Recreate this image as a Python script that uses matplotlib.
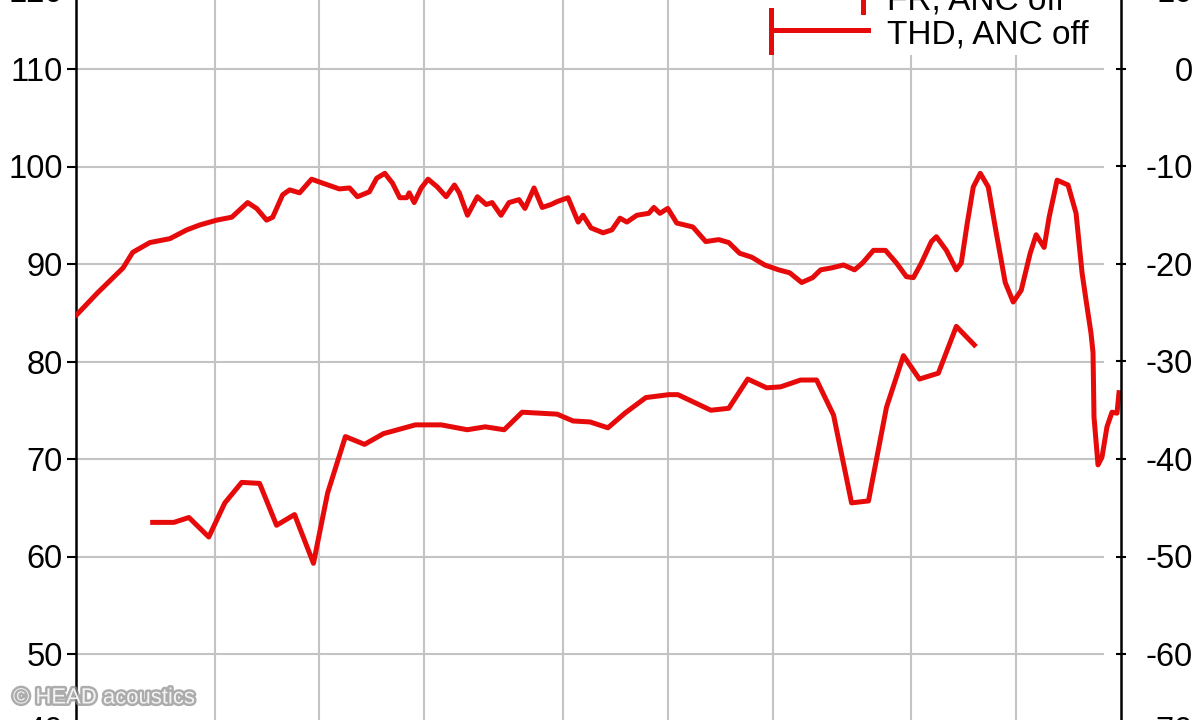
import matplotlib
matplotlib.use("Agg")
import matplotlib.pyplot as plt
from matplotlib.ticker import NullLocator
from matplotlib.transforms import ScaledTranslation
from matplotlib.patches import Rectangle
from matplotlib.lines import Line2D
import matplotlib.patheffects as pe

# ---------------- data ----------------
fr_freq = [20.1, 23.0, 27.3, 29.1, 32.6, 37.2, 41.6, 45.3, 50.7, 56.0,
           62.2, 66.0, 70.5, 73.4, 78.4, 82.1, 87.7, 94.9, 102, 114,
           122, 128.5, 139, 146, 154, 162, 170, 178, 181, 187,
           196, 205, 218, 231, 244, 252, 266, 284, 301, 313,
           332, 350, 374, 389, 413, 436, 462, 481, 517, 553,
           571, 602, 652, 691, 729, 763, 815, 882, 912, 949,
           1000, 1061, 1180, 1285, 1400, 1496, 1608, 1741, 1897, 2081,
           2238, 2423, 2604, 2746, 2952, 3195, 3436, 3622, 3894, 4216,
           4534, 4842, 5070, 5346, 5710, 5902, 6304, 6734, 6958, 7240,
           7532, 7890, 8318, 8768, 9304, 9808, 10340, 10972, 11414, 12032,
           12436, 13110, 14094, 14860, 15460, 15872, 16404, 16624, 16732, 17180,
           17640, 18230, 18846, 19478, 19738]
fr_db = [84.8, 87.0, 89.6, 91.2, 92.2, 92.6, 93.5, 94.0, 94.5, 94.8,
         96.3, 95.7, 94.5, 94.8, 97.1, 97.6, 97.3, 98.7, 98.3, 97.7,
         97.8, 96.9, 97.4, 98.8, 99.3, 98.3, 96.8, 96.8, 97.3, 96.3,
         97.8, 98.7, 97.9, 96.9, 98.1, 97.3, 95.0, 96.9, 96.1, 96.3,
         95.0, 96.3, 96.6, 95.7, 97.8, 95.8, 96.1, 96.4, 96.8, 94.3,
         95.0, 93.7, 93.2, 93.5, 94.7, 94.3, 95.0, 95.2, 95.8, 95.2,
         95.7, 94.2, 93.8, 92.3, 92.5, 92.2, 91.1, 90.7, 89.9, 89.4,
         89.1, 88.1, 88.6, 89.4, 89.6, 89.9, 89.4, 90.1, 91.4, 91.4,
         90.1, 88.7, 88.6, 90.1, 92.3, 92.8, 91.4, 89.4, 90.1, 94.2,
         97.9, 99.3, 97.9, 93.2, 88.1, 86.1, 87.3, 91.1, 93.0, 91.7,
         94.8, 98.6, 98.1, 95.2, 89.1, 86.3, 82.9, 80.9, 74.3, 69.4,
         70.2, 73.3, 74.8, 74.7, 76.8]

thd_freq = [33.2, 38.2, 42.2, 48.1, 53.5, 59.8, 67.3, 75.3, 84.8, 96.1,
            105.5, 118.7, 134.7, 152.6, 188.5, 223.8, 265.6, 299.2, 339, 381.8,
            481, 534.6, 598, 673, 753, 865, 1007, 1069, 1329, 1496,
            1696, 1922, 2108, 2405, 2674, 2991, 3369, 3768, 4244, 4747,
            5276, 5979, 6734, 7584]
thd_db = [-46.5, -46.5, -46.0, -48.0, -44.5, -42.4, -42.5, -46.8, -45.7, -50.7,
          -43.5, -37.7, -38.5, -37.4, -36.5, -36.5, -37.0, -36.7, -37.0, -35.2,
          -35.4, -36.1, -36.2, -36.8, -35.3, -33.7, -33.4, -33.4, -35.0, -34.8,
          -31.8, -32.7, -32.6, -31.9, -31.9, -35.5, -44.5, -44.3, -34.7, -29.4,
          -31.8, -31.2, -26.4, -28.3]

left_ticks = [40, 50, 60, 70, 80, 90, 100, 110, 120]
right_ticks = [-70, -60, -50, -40, -30, -20, -10, 0, 10]
x_grid = [50, 100, 200, 500, 1000, 2000, 5000, 10000]
legend_labels = ["FR, ANC off", "THD, ANC off"]
watermark = "\u00a9 HEAD acoustics"

# ---------------- styling ----------------
plt.rcParams['font.family'] = ['Liberation Sans', 'DejaVu Sans']
RED = '#e60a0a'
GRID = '#c3c3c3'
LW = 3.6
W, H = 1199, 720
fig = plt.figure(figsize=(W / 100, H / 100), dpi=100)
fig.patch.set_facecolor('white')

# axes extends beyond the canvas (reference is a crop)
ax = fig.add_axes([76 / W, (H - 751.5) / H, (1121 - 76) / W, 780 / H])
ax.set_xscale('log')
ax.set_xlim(20, 20000)
ax.set_ylim(40, 120)
ax.set_xticks(x_grid)
ax.xaxis.set_minor_locator(NullLocator())
ax.set_xticklabels([])
ax.tick_params(axis='x', length=0)
ax.set_yticks(left_ticks)
ax.set_yticklabels([str(v) for v in left_ticks])
ax.tick_params(axis='y', direction='out', length=6.5, width=1.5, pad=3,
               labelsize=23.5, colors='black')
ax.grid(True, color=GRID, lw=1.5)
ax.set_axisbelow(True)
for s in ['top', 'bottom', 'right']:
    ax.spines[s].set_visible(False)
ax.spines['left'].set_linewidth(1.8)

# white strip where grid stops before the right axis
ax.add_patch(Rectangle(((1104 - 76) / (1121 - 76), 0), (1121 - 1104) / (1121 - 76), 1,
                       transform=ax.transAxes, facecolor='white', edgecolor='none', zorder=1))
# legend background
ax.add_patch(Rectangle((700 / W, (H - 55) / H), (1104 - 700) / W, 55 / H + 0.05,
                       transform=fig.transFigure, facecolor='white', edgecolor='none',
                       zorder=1, clip_on=False))

ax.plot(fr_freq, fr_db, color=RED, lw=LW, zorder=3, solid_joinstyle='round')

ax2 = ax.twinx()
ax2.set_ylim(-70, 10)
ax2.set_yticks(right_ticks)
ax2.set_yticklabels([str(v) for v in right_ticks], ha='right')
ax2.tick_params(axis='y', direction='inout', length=7, width=1.5, pad=48,
                labelsize=23.5, colors='black')
for s in ['top', 'bottom', 'left']:
    ax2.spines[s].set_visible(False)
ax2.spines['right'].set_linewidth(1.8)
ax2.plot(thd_freq, thd_db, color=RED, lw=LW, zorder=3, solid_joinstyle='round')

# edge tick labels sit inward (as in the cropped reference)
def shift(lbl, dy_px):
    lbl.set_transform(lbl.get_transform() + ScaledTranslation(0, dy_px / 100, fig.dpi_scale_trans))

lt = ax.yaxis.get_major_ticks()
shift(lt[0].label1, 24)
shift(lt[-1].label1, -19)
rt = ax2.yaxis.get_major_ticks()
shift(rt[0].label2, 24)
shift(rt[-1].label2, -19)

# legend (manual, matching the reference handle shapes)
def fx(x):
    return x / W

def fy(y):
    return (H - y) / H

fig.add_artist(Line2D([fx(863), fx(863)], [fy(-20), fy(12)], color=RED, lw=LW,
                      transform=fig.transFigure, zorder=10))
fig.add_artist(Line2D([fx(771), fx(771)], [fy(10), fy(52)], color=RED, lw=LW,
                      transform=fig.transFigure, zorder=10))
fig.add_artist(Line2D([fx(771), fx(868)], [fy(30), fy(30)], color=RED, lw=LW,
                      transform=fig.transFigure, zorder=10))
fig.text(fx(887), fy(9), legend_labels[0], fontsize=24, ha='left', va='baseline', zorder=10)
fig.text(fx(887), fy(44), legend_labels[1], fontsize=24, ha='left', va='baseline', zorder=10)

# watermark
fig.text(fx(13), fy(698), watermark, fontsize=15.9, color='#f4f4f4', ha='left', va='center',
         zorder=20,
         path_effects=[pe.withStroke(linewidth=3.5, foreground='#909090', alpha=0.75)])

fig.savefig('out.png', dpi=100)
